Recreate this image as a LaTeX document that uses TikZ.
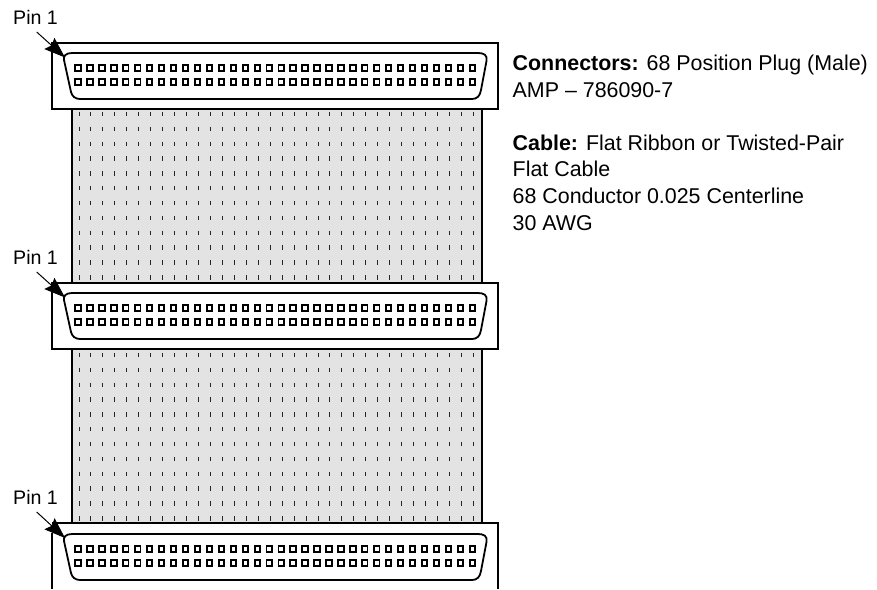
\documentclass[tikz,border=0pt]{standalone}
\usepackage{fontspec}
\setmainfont{Liberation Sans}
\usetikzlibrary{arrows.meta}

\tikzset{
  boxline/.style={line width=2pt, black},
  shellline/.style={line width=1.8pt, black, fill=white},
  pinsquare/.style={line width=1.9pt, black},
  tickline/.style={line width=1pt, black!85},
  cablefill/.style={fill=black!11, draw=black, line width=2pt},
  pinlabel/.style={anchor=base west, inner sep=0pt, font=\fontsize{19.6}{22}\selectfont},
  noteline/.style={anchor=base west, inner sep=0pt, font=\fontsize{21.4}{26}\selectfont},
  pinarrow/.style={line width=1pt, -{Stealth[length=21pt, width=15pt, inset=3pt]}},
}

% shell outline of one plug, with pins, y is the top of the box
\newcommand{\plugshell}[1]{
  \draw[shellline, shift={(0,#1)}]
  (78, 10) -- (478, 10)
  .. controls (484, 10) and (487.5, 12) .. (486.5, 18)
  -- (481, 47)
  .. controls (480, 53) and (477, 56) .. (472, 56)
  -- (80, 56)
  .. controls (75, 56) and (72, 53) .. (71, 49)
  -- (64, 17)
  .. controls (63, 13) and (66, 10) .. (72, 10)
  -- cycle;
  \foreach \col in {0, ..., 33} {
    \foreach \row in {25, 39} {
      \draw[pinsquare, shift={(78 + 11.95 * \col, #1 + \row)}]
      (-2.7, -2.7) rectangle (2.7, 2.7);
    }
  }
}

% cable section, y is the top of the first row of ticks
\newcommand{\cabledots}[1]{
  \foreach \col in {0, ..., 33} {
    \foreach \row in {0, ..., 11} {
      \draw[tickline, shift={(79 + 11.95 * \col, #1 + 14.85 * \row)}]
      (0, -2.2) -- (0, 2.2);
    }
  }
}

\begin{document}
\begin{tikzpicture}[x=1pt, y=-1pt]
  \useasboundingbox (0, 0) rectangle (877, 589);

  % cables
  \draw[cablefill] (71.5, 100) rectangle (481.5, 290);
  \draw[cablefill] (71.5, 340) rectangle (481.5, 530);
  \cabledots{114}
  \cabledots{355}

  % connectors
  \draw[boxline, fill=white] (52, 43) rectangle (498, 108.5);
  \plugshell{43}
  \draw[boxline, fill=white] (52, 283) rectangle (498, 348.5);
  \plugshell{283}
  \fill[white] (52, 523) rectangle (498, 589);
  \draw[boxline] (52, 523) -- (498, 523) -- (498, 589);
  \draw[boxline] (52, 533) -- (52, 589);
  \plugshell{524}

  % pin labels
  \node[pinlabel] (pinA) at (13, 24) {Pin 1};
  \node[pinlabel] (pinB) at (13, 264) {Pin 1};
  \node[pinlabel] (pinC) at (13, 504) {Pin 1};
  \coordinate (pinAtail) at (36.7, 32);
  \coordinate (pinAtip) at (65, 57.5);
  \coordinate (pinBtail) at (36.7, 272);
  \coordinate (pinBtip) at (65, 297.5);
  \coordinate (pinCtail) at (36.7, 512);
  \coordinate (pinCtip) at (65, 538);
  \draw[pinarrow] (pinAtail) -- (pinAtip);
  \draw[pinarrow] (pinBtail) -- (pinBtip);
  \draw[pinarrow] (pinCtail) -- (pinCtip);

  % notes
  \node[noteline] (connectors) at (512.5, 70.7) {\textbf{Connectors:} 68 Position Plug (Male)};
  \node[noteline] (amp) at (512.5, 97) {AMP – 786090-7};
  \node[noteline] (cable) at (512.5, 150) {\textbf{Cable:} Flat Ribbon or Twisted-Pair};
  \node[noteline] (flat) at (512.5, 176.5) {Flat Cable};
  \node[noteline] (conductor) at (512.5, 203) {68 Conductor 0.025 Centerline};
  \node[noteline] (awg) at (512.5, 230) {30 AWG};
\end{tikzpicture}
\end{document}
